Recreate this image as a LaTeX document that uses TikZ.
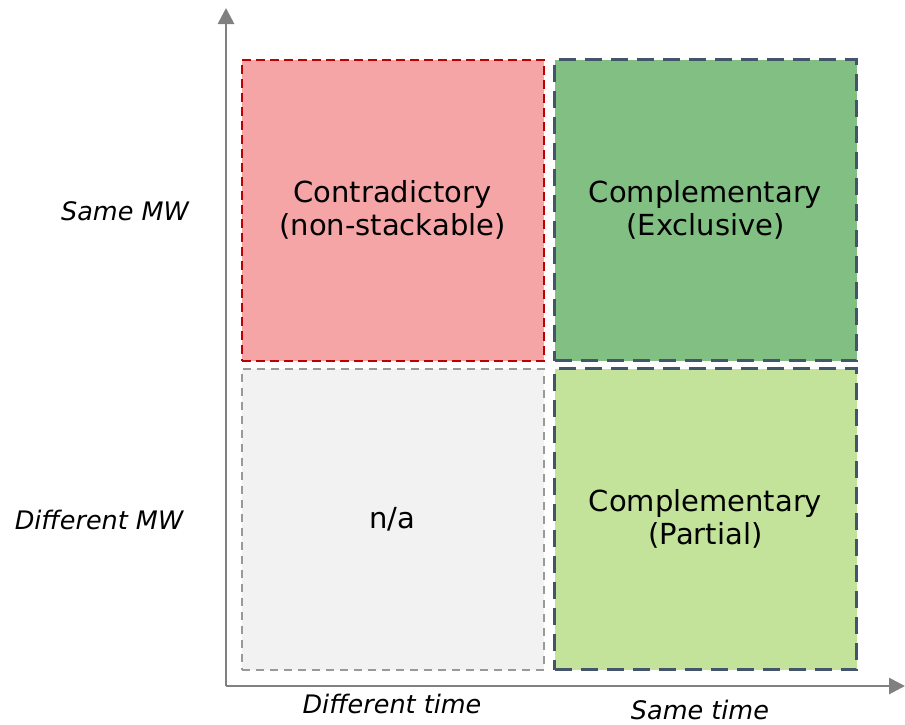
\documentclass[tikz,border=0pt]{standalone}
\usepackage{fontspec}
\setmainfont{DejaVu Sans}
\usetikzlibrary{arrows.meta}
\definecolor{axisgray}{HTML}{808080}
\definecolor{redfill}{HTML}{F5A5A5}
\definecolor{redline}{HTML}{C00000}
\definecolor{dgfill}{HTML}{82BF82}
\definecolor{lgfill}{HTML}{C3E39A}
\definecolor{grayfill}{HTML}{F2F2F2}
\definecolor{grayline}{HTML}{999999}
\definecolor{blueline}{HTML}{44546A}
\tikzset{
  quad/.style={minimum width=302pt, minimum height=301pt, inner sep=0pt, align=center, font=\fontsize{29}{33}\selectfont},
  redq/.style={quad, fill=redfill, draw=redline, line width=2pt, dash pattern=on 9pt off 5pt},
  greenq/.style={quad, draw=blueline, line width=3.2pt, dash pattern=on 17pt off 9pt},
  grayq/.style={quad, fill=grayfill, draw=grayline, line width=2pt, dash pattern=on 8pt off 6pt},
  axis/.style={draw=axisgray, line width=2.8pt, -{Triangle[length=16pt,width=16pt]}},
  axlabel/.style={inner sep=0pt, font=\fontsize{25.5}{30}\selectfont\itshape}
}
\begin{document}
\begin{tikzpicture}[x=1pt,y=-1pt]
\useasboundingbox (0,0) rectangle (905,724);
\coordinate (O) at (226,686);
\coordinate (ytop) at (226,8);
\coordinate (xend) at (905,686);
\draw[axis] (O) -- (ytop);
\draw[axis] (O) -- (xend);
\node[redq] (cq) at (392.5,210) {Contradictory\\(non-stackable)};
\node[greenq, fill=dgfill] (ce) at (705.5,210) {Complementary\\(Exclusive)};
\node[grayq] (na) at (392.5,519) {n/a};
\node[greenq, fill=lgfill] (cp) at (705.5,519) {Complementary\\(Partial)};
\node[axlabel] (smw) at (125,211) {Same MW};
\node[axlabel] (dmw) at (99,520) {Different MW};
\node[axlabel] (dt) at (392,704) {Different time};
\node[axlabel] (st) at (700,710) {Same time};
\end{tikzpicture}
\end{document}
